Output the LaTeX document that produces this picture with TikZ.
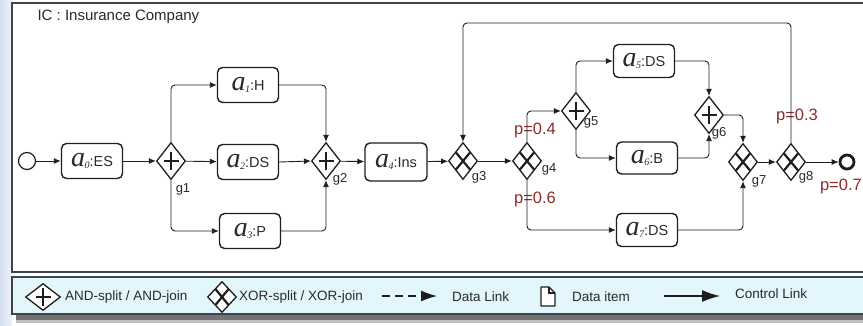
\documentclass[tikz,border=0pt]{standalone}
\usepackage{fontspec}
\setmainfont{Liberation Sans}
\newfontfamily\actserif{Liberation Serif}
\usetikzlibrary{shapes.geometric,arrows.meta,calc}

\definecolor{lineclr}{HTML}{1E1E1E}
\definecolor{frameclr}{HTML}{3A4550}
\definecolor{probclr}{HTML}{8E2B2B}
\definecolor{legendbg}{HTML}{E3F6FC}
\definecolor{marginclr}{HTML}{D6E0F1}
\definecolor{txtclr}{HTML}{2A2A2A}

% activity label: big italic "a", subscript index, then the role name
\newcommand\actlbl[2]{{\fontsize{28}{28}\selectfont\actserif\itshape a}\kern-0.5pt\raisebox{-2.5pt}{\fontsize{10}{10}\selectfont\actserif\itshape #1}{\fontsize{14.5}{14.5}\selectfont:#2}}

\tikzset{
  actbox/.style={draw=lineclr, line width=1.4pt, rounded corners=5pt, fill=white,
    minimum width=61pt, minimum height=35pt, inner sep=1pt, text=txtclr},
  gw/.style={diamond, draw=lineclr, line width=1.3pt, fill=white,
    minimum width=29pt, minimum height=37pt, inner sep=0pt},
  andgw/.style={gw, path picture={
      \draw[lineclr, line width=2.6pt]
        ($(path picture bounding box.center)+(-7.5,0)$) -- ($(path picture bounding box.center)+(7.5,0)$)
        ($(path picture bounding box.center)+(0,-9)$) -- ($(path picture bounding box.center)+(0,9)$);}},
  xorgw/.style={gw, path picture={
      \draw[lineclr, line width=2.2pt]
        ($(path picture bounding box.center)+(-7,-8.5)$) -- ($(path picture bounding box.center)+(7,8.5)$)
        ($(path picture bounding box.center)+(-7,8.5)$) -- ($(path picture bounding box.center)+(7,-8.5)$);}},
  gwlbl/.style={font=\fontsize{13}{13}\selectfont, text=txtclr, inner sep=0pt},
  prob/.style={font=\fontsize{16.5}{16.5}\selectfont, text=probclr, inner sep=0pt},
  ctl/.style={draw=lineclr, line width=0.9pt, rounded corners=4pt,
    -{Latex[length=7pt,width=6pt]}},
  startev/.style={circle, draw=lineclr, line width=1.2pt, fill=white, minimum size=17pt, inner sep=0pt},
  endev/.style={circle, draw=lineclr, line width=2.8pt, fill=white, minimum size=14pt, inner sep=0pt},
  legtxt/.style={font=\fontsize{13.5}{13.5}\selectfont, text=txtclr, anchor=west, inner sep=0pt},
}

\begin{document}
\begin{tikzpicture}[x=1pt, y=-1pt]
\useasboundingbox (0,0) rectangle (863,325);
\clip (0,0) rectangle (863,325);

% page background and left margin
\fill[white] (0,0) rectangle (863,325);
\fill[left color=marginclr, right color=marginclr!40] (0,0) rectangle (12,325);

% pool frame
\draw[frameclr, line width=2pt, fill=white] (12,3) rectangle (890,272);
\node[anchor=west, font=\fontsize{15}{15}\selectfont, text=txtclr] (title) at (34,17) {IC : Insurance Company};

% legend bar with its shadow
\fill[black!55] (16,281) rectangle (890,320);
\fill[black!25] (16,320) rectangle (890,323);
\draw[frameclr, line width=1.5pt, fill=legendbg] (12,277) rectangle (890,314);

% events
\node[startev] (s) at (27,161) {};
\node[endev] (e) at (847,162) {};

% activities
\node[actbox] (a0) at (92,161) {\actlbl{0}{ES}};
\node[actbox] (a1) at (248,85) {\actlbl{1}{H}};
\node[actbox] (a2) at (248,162) {\actlbl{2}{DS}};
\node[actbox] (a3) at (250,231) {\actlbl{3}{P}};
\node[actbox, minimum width=62pt, minimum height=38pt] (a4) at (396,162) {\actlbl{4}{Ins}};
\node[actbox, minimum height=33pt] (a5) at (644,61) {\actlbl{5}{DS}};
\node[actbox, minimum height=32pt] (a6) at (647,158) {\actlbl{6}{B}};
\node[actbox, minimum height=33pt] (a7) at (647,230) {\actlbl{7}{DS}};

% gateways
\node[andgw] (g1) at (171,161) {};
\node[andgw] (g2) at (326,161) {};
\node[xorgw] (g3) at (463,161) {};
\node[xorgw] (g4) at (527,161) {};
\node[andgw] (g5) at (576,111) {};
\node[andgw] (g6) at (709,115) {};
\node[xorgw] (g7) at (743,162) {};
\node[xorgw] (g8) at (791,162) {};

\node[gwlbl] (l1) at (183,189) {g1};
\node[gwlbl] (l2) at (340,179) {g2};
\node[gwlbl] (l3) at (479,177) {g3};
\node[gwlbl] (l4) at (549,169) {g4};
\node[gwlbl] (l5) at (591,122) {g5};
\node[gwlbl] (l6) at (719,133) {g6};
\node[gwlbl] (l7) at (759,181) {g7};
\node[gwlbl] (l8) at (806,177) {g8};

% branch probabilities
\node[prob] (p4) at (535,130) {p=0.4};
\node[prob] (p6) at (535,199) {p=0.6};
\node[prob] (p3) at (797,116) {p=0.3};
\node[prob, anchor=east] (p7) at (862,186) {p=0.7};

% control flow
\draw[ctl] (s) -- (a0);
\draw[ctl] (a0) -- (g1);
\draw[ctl] (g1) -- (a2);
\draw[ctl] (g1.north) |- (a1.west);
\draw[ctl] (g1.south) |- (a3.west);
\draw[ctl] (a1.east) -| (g2.north);
\draw[ctl] (a2.east) -- (g2.west);
\draw[ctl] (a3.east) -| (g2.south);
\draw[ctl] (g2) -- (a4);
\draw[ctl] (a4) -- (g3);
\draw[ctl] (g3) -- (g4);
\draw[ctl] (g4.north) |- (g5.west);
\draw[ctl] (g4.south) |- (a7.west);
\draw[ctl] (g5.north) |- (a5.west);
\draw[ctl] (g5.south) |- (a6.west);
\draw[ctl] (a5.east) -| (g6.north);
\draw[ctl] (a6.east) -| (g6.south);
\draw[ctl] (g6.east) -| (g7.north);
\draw[ctl] (a7.east) -| (g7.south);
\draw[ctl] (g7) -- (g8);
\coordinate (loopy) at (0,23);
\draw[ctl] (g8.north) -- (g8.north |- loopy) -| (g3.north);
\draw[ctl] (g8) -- (e);

% legend entries
\node[andgw, minimum width=35pt, minimum height=27pt] (kand) at (43,297) {};
\node[legtxt] (tand) at (65,297) {AND-split / AND-join};
\node[xorgw, minimum width=29pt, minimum height=31pt] (kxor) at (222,297) {};
\node[legtxt] (txor) at (239,297) {XOR-split / XOR-join};
\coordinate (dl1) at (382,296);
\coordinate (dl2) at (437,296);
\draw[lineclr, line width=1.3pt, dash pattern=on 8pt off 5pt,
  -{Latex[length=16pt,width=11pt]}] (dl1) -- (dl2);
\node[legtxt] (tdl) at (452,297) {Data Link};
\draw[lineclr, line width=1.3pt, line join=round, fill=white]
  (541,306) -- (541,287) -- (549,287) -- (555,293) -- (555,306) -- cycle;
\draw[lineclr, line width=1.1pt] (549,287) -- (549,293) -- (555,293);
\node[legtxt] (tdi) at (572,297) {Data item};
\coordinate (cl1) at (664,296);
\coordinate (cl2) at (720,296);
\draw[lineclr, line width=1.3pt, -{Latex[length=18pt,width=12pt]}] (cl1) -- (cl2);
\node[legtxt] (tcl) at (735,294) {Control Link};
\end{tikzpicture}
\end{document}
